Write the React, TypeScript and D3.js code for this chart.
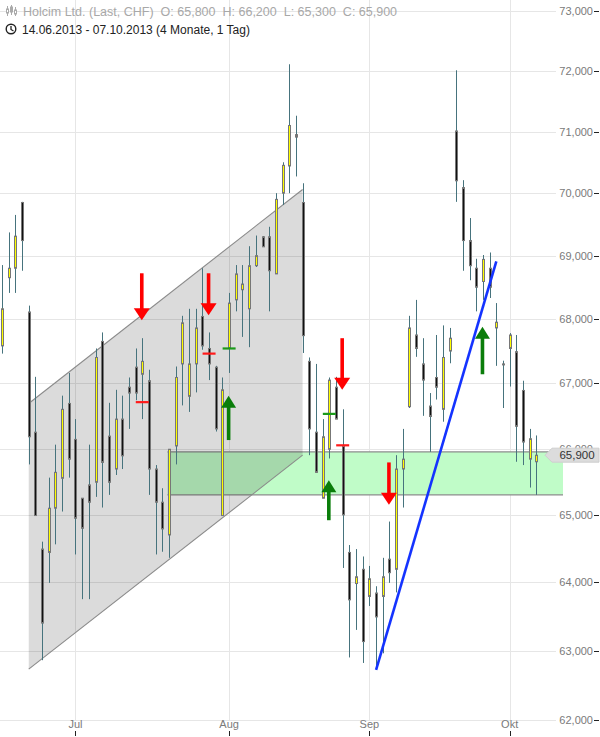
import React from "react";
import * as d3 from "d3";

// ---- data (prices in CHF) ----
const OPEN = [67.58, 68.65, 68.80, 69.85, 68.11, 66.25, 64.49, 64.44, 65.10, 65.55, 66.69,
  66.14, 65.25, 65.45, 65.49, 67.65, 66.19, 65.69, 66.45, 66.94, 67.25, 67.14, 67.04, 65.69, 65.19, 64.70, 66.04, 67.30, 66.80, 67.30, 68.04, 67.54, 67.25, 64.99,
  67.54, 68.30, 68.46, 68.16, 68.84, 69.30, 69.30, 68.71, 70.00, 70.44, 70.95, 69.85, 67.34, 66.25, 65.25, 65.99, 66.94, 66.04, 64.44, 63.98, 64.19,
  63.79, 63.84, 63.79, 64.34, 64.19, 65.69, 66.64, 67.75, 67.30, 66.65, 67.09, 66.60, 67.50, 71.01, 70.09, 69.24, 68.80, 68.59, 68.80, 67.86, 67.30,
  67.54, 67.49, 66.89, 65.84, 65.80];
const HIGH = [68.85, 69.37, 69.65, 69.86, 68.21, 67.10, 64.60, 65.56, 66.06, 66.81, 67.16,
  66.45, 65.25, 66.06, 67.54, 67.79, 66.70, 66.90, 66.81, 67.09, 67.54, 67.70, 67.21, 65.75, 65.40, 65.99, 67.26, 68.05, 68.16, 68.16, 68.80, 67.79, 67.27, 67.09,
  68.41, 68.85, 68.85, 69.15, 69.32, 69.31, 69.46, 70.00, 70.50, 72.11, 71.26, 70.16, 67.40, 67.30, 66.45, 67.09, 67.10, 66.60, 64.55, 64.49, 64.38,
  64.24, 63.94, 64.36, 64.90, 65.90, 66.30, 68.05, 68.30, 67.70, 66.85, 67.75, 67.90, 67.86, 72.01, 70.21, 69.60, 68.95, 69.01, 69.05, 68.25, 67.35,
  67.78, 67.75, 67.04, 66.30, 66.20];
const LOW = [67.46, 68.41, 68.41, 68.76, 65.76, 64.99, 62.86, 63.99, 64.56, 65.05, 65.56,
  64.41, 63.75, 63.75, 65.27, 65.11, 65.30, 65.60, 65.69, 66.30, 66.74, 66.45, 65.30, 64.41, 64.45, 64.36, 65.76, 66.66, 66.56, 66.86, 67.52, 67.05, 66.26, 64.99,
  67.16, 68.12, 67.72, 67.56, 68.82, 69.14, 68.12, 68.71, 69.81, 70.00, 70.27, 67.47, 65.90, 65.64, 65.25, 65.85, 66.45, 64.21, 62.90, 63.30, 62.82,
  63.65, 62.72, 62.96, 63.99, 63.85, 65.11, 66.62, 67.41, 66.50, 65.95, 66.75, 66.41, 67.31, 69.86, 68.76, 68.61, 68.12, 68.30, 68.33, 67.27, 66.62,
  66.95, 65.80, 65.75, 65.41, 65.30];
const CLOSE = [68.16, 68.80, 69.31, 69.24, 66.18, 64.99, 63.40, 65.10, 65.64, 66.60, 65.84,
  64.95, 64.80, 65.19, 67.40, 65.79, 65.49, 66.45, 65.89, 66.85, 66.85, 67.34, 65.69, 65.19, 64.79, 65.99, 67.09, 67.94, 67.30, 67.86, 67.58, 67.30, 66.30, 66.90,
  68.25, 68.71, 68.55, 68.84, 69.00, 69.14, 68.76, 69.90, 70.45, 71.10, 70.91, 67.74, 66.30, 65.64, 66.18, 67.05, 66.45, 65.00, 63.74, 64.08, 63.13,
  64.05, 63.49, 64.08, 64.14, 65.69, 65.84, 67.86, 67.54, 67.05, 66.49, 66.94, 67.40, 67.70, 70.20, 69.24, 68.84, 68.50, 68.94, 68.50, 67.95, 67.29,
  67.75, 66.34, 66.10, 66.15, 65.90];

const START = new Date(2013, 5, 14);
const END = new Date(2013, 9, 7);
const HOLIDAYS = ["2013-08-01"];
const MONTH_LABELS = ["Jul", "Aug", "Sep", "Okt"];
const Y_TICKS = [62, 63, 64, 65, 66, 67, 68, 69, 70, 71, 72, 73];
const HEADER_PARTS = ["Holcim Ltd. (Last, CHF)", "O: 65,800", "H: 66,200", "L: 65,300", "C: 65,900"];

// drawings
const CHANNEL: [string, number][] = [["2013-06-20", 66.69], ["2013-08-19", 70.06], ["2013-08-19", 65.90], ["2013-06-20", 62.73]];
const ZONE_START = "2013-07-19";
const ZONE_PRICES = [65.30, 65.95];
const TREND: [string, number][] = [["2013-09-03", 62.72], ["2013-09-27", 68.91]];
const SELL_ARROWS: [string, number, number][] = [["2013-07-15", 67.98, 68.72], ["2013-07-29", 68.06, 68.72], ["2013-08-27", 66.90, 67.70], ["2013-09-05", 65.15, 65.79]];
const BUY_ARROWS: [string, number, number][] = [["2013-08-02", 66.81, 66.13], ["2013-08-23", 65.52, 64.92], ["2013-09-25", 67.88, 67.14]];
const RED_MARKS: [string, number][] = [["2013-07-15", 66.71], ["2013-07-29", 67.46], ["2013-08-27", 66.05]];
const GREEN_MARKS: [string, number][] = [["2013-08-02", 67.54], ["2013-08-23", 66.53]];

const fmtDay = d3.timeFormat("%Y-%m-%d");
const DATES = d3.timeDay.range(START, d3.timeDay.offset(END, 1))
  .filter(d => d.getDay() !== 0 && d.getDay() !== 6 && !HOLIDAYS.includes(fmtDay(d)));
const KEYS = DATES.map(fmtDay);

const fmtNum = (v: number) => v.toFixed(3).replace(".", ",");
const FONT = "'Liberation Sans', Arial, sans-serif";

export default function App() {
  const x = d3.scalePoint<string>().domain(KEYS).range([2, 536.4]);
  const y = d3.scaleLog().domain([62, 73]).range([720, 11]);
  const px = (k: string) => x(k) as number;

  const monthStarts: string[] = [];
  DATES.forEach((d, i) => {
    if (i > 0 && d.getMonth() !== DATES[i - 1].getMonth()) monthStarts.push(KEYS[i]);
  });

  const n = KEYS.length;
  const last = CLOSE[n - 1];
  const yc = y(last);
  const zoneLeft = px(ZONE_START) - 1.5;
  const zoneRight = 563;

  const chanPts = CHANNEL.map(([k, p]) => `${px(k)},${y(p)}`).join(" ");

  return (
    <svg width={600} height={737} style={{ position: "absolute", left: 0, top: 0, display: "block", background: "#fff" }}
      fontFamily={FONT}>
      {/* grid */}
      {Y_TICKS.map(v => (
        <line key={"g" + v} x1={0} x2={556} y1={Math.round(y(v)) + 0.5} y2={Math.round(y(v)) + 0.5} stroke="#e6e6e6" />
      ))}
      {monthStarts.map(k => (
        <line key={"v" + k} x1={Math.round(px(k)) + 0.5} x2={Math.round(px(k)) + 0.5} y1={0} y2={721} stroke="#e6e6e6" />
      ))}

      {/* support zone */}
      <rect x={zoneLeft} y={y(ZONE_PRICES[1])} width={zoneRight - zoneLeft} height={y(ZONE_PRICES[0]) - y(ZONE_PRICES[1])} fill="#c0fcc8" />
      {ZONE_PRICES.map(p => (
        <line key={"z" + p} x1={zoneLeft} x2={zoneRight} y1={y(p)} y2={y(p)} stroke="#8c8c8c" strokeWidth={1.2} />
      ))}

      {/* channel */}
      <polygon points={chanPts} fill="rgba(0,0,0,0.14)" stroke="none" />
      <line x1={px(CHANNEL[0][0])} y1={y(CHANNEL[0][1])} x2={px(CHANNEL[1][0])} y2={y(CHANNEL[1][1])} stroke="#8a8a8a" strokeWidth={1.1} />
      <line x1={px(CHANNEL[3][0])} y1={y(CHANNEL[3][1])} x2={px(CHANNEL[2][0])} y2={y(CHANNEL[2][1])} stroke="#8a8a8a" strokeWidth={1.1} />

      {/* candles */}
      {KEYS.map((k, i) => {
        const cx = Math.round(px(k));
        const up = CLOSE[i] >= OPEN[i];
        const top = y(Math.max(OPEN[i], CLOSE[i]));
        const bot = y(Math.min(OPEN[i], CLOSE[i]));
        return (
          <g key={k}>
            <line x1={cx + 0.5} x2={cx + 0.5} y1={y(HIGH[i])} y2={y(LOW[i])} stroke="#46737d" strokeWidth={1} />
            <rect x={cx - 0.5} y={top} width={2} height={Math.max(1, bot - top)}
              fill={up ? "#ffff00" : "#111"} stroke="#777" strokeWidth={1} />
          </g>
        );
      })}

      {/* marks */}
      {RED_MARKS.map(([k, p]) => (
        <line key={"rm" + k} x1={px(k) - 6.5} x2={px(k) + 6.5} y1={y(p)} y2={y(p)} stroke="#ff1a1a" strokeWidth={2.2} />
      ))}
      {GREEN_MARKS.map(([k, p]) => (
        <line key={"gm" + k} x1={px(k) - 6.5} x2={px(k) + 6.5} y1={y(p)} y2={y(p)} stroke="#1a9a1a" strokeWidth={2.2} />
      ))}

      {/* trend line */}
      <line x1={px(TREND[0][0])} y1={y(TREND[0][1])} x2={px(TREND[1][0])} y2={y(TREND[1][1])} stroke="#1433ff" strokeWidth={2.6} />

      {/* arrows */}
      {SELL_ARROWS.map(([k, tip, tail]) => {
        const ax = px(k) - 0.5, yt = y(tip), yb = y(tail);
        return (
          <g key={"sa" + k} fill="#ff0000">
            <rect x={ax - 1.8} y={yb} width={3.6} height={yt - 12 - yb + 1} />
            <polygon points={`${ax - 8},${yt - 12} ${ax + 8},${yt - 12} ${ax},${yt}`} />
          </g>
        );
      })}
      {BUY_ARROWS.map(([k, tip, tail]) => {
        const ax = px(k) - 0.5, yt = y(tip), yb = y(tail);
        return (
          <g key={"ba" + k} fill="#0a7d0a">
            <rect x={ax - 1.8} y={yt + 11} width={3.6} height={yb - yt - 11} />
            <polygon points={`${ax - 7.5},${yt + 12} ${ax + 7.5},${yt + 12} ${ax},${yt}`} />
          </g>
        );
      })}

      {/* right axis */}
      {Y_TICKS.map(v => (
        <g key={"t" + v}>
          <text x={593} y={y(v) + 4} textAnchor="end" fontSize={11} fill="#7a7a7a">{fmtNum(v)}</text>
          <line x1={594} x2={599} y1={Math.round(y(v)) + 0.5} y2={Math.round(y(v)) + 0.5} stroke="#222" />
        </g>
      ))}

      {/* last price label */}
      <path d={`M545,${yc} L552,${yc - 7} L599,${yc - 7} L599,${yc + 7} L552,${yc + 7} Z`} fill="#dcdcdc" stroke="#cfcfcf" />
      <text x={577} y={yc + 4} textAnchor="middle" fontSize={11.5} fill="#333">{fmtNum(last)}</text>

      {/* x axis */}
      {monthStarts.map((k, i) => (
        <g key={"xl" + k}>
          <text x={px(k)} y={728} textAnchor="middle" fontSize={11} fill="#7a7a7a">{MONTH_LABELS[i]}</text>
          <line x1={Math.round(px(k)) + 0.5} x2={Math.round(px(k)) + 0.5} y1={731} y2={736} stroke="#222" />
        </g>
      ))}

      {/* header */}
      <g stroke="#aaa" strokeWidth={1}>
        <line x1={7.5} x2={7.5} y1={6} y2={16} />
        <line x1={11.5} x2={11.5} y1={5} y2={15} />
        <line x1={15.5} x2={15.5} y1={7} y2={16} />
        <rect x={6.5} y={9} width={2} height={4} fill="#fff" />
        <rect x={10.5} y={7} width={2} height={5} fill="#aaa" />
        <rect x={14.5} y={10} width={2} height={4} fill="#fff" />
      </g>
      <text x={23} y={16} fontSize={12.5} fill="#a8a8a8">
        {HEADER_PARTS.map((t, i) => (
          <tspan key={"h" + i} dx={i === 0 ? 0 : 7}>{t}</tspan>
        ))}
      </text>
      <circle cx={11} cy={29} r={4.8} fill="none" stroke="#222" strokeWidth={1.4} />
      <polyline points="11,26 11,29.5 13.5,31" fill="none" stroke="#222" strokeWidth={1.3} />
      <text x={22} y={34} fontSize={12} fill="#222">14.06.2013 - 07.10.2013 (4 Monate, 1 Tag)</text>
    </svg>
  );
}
